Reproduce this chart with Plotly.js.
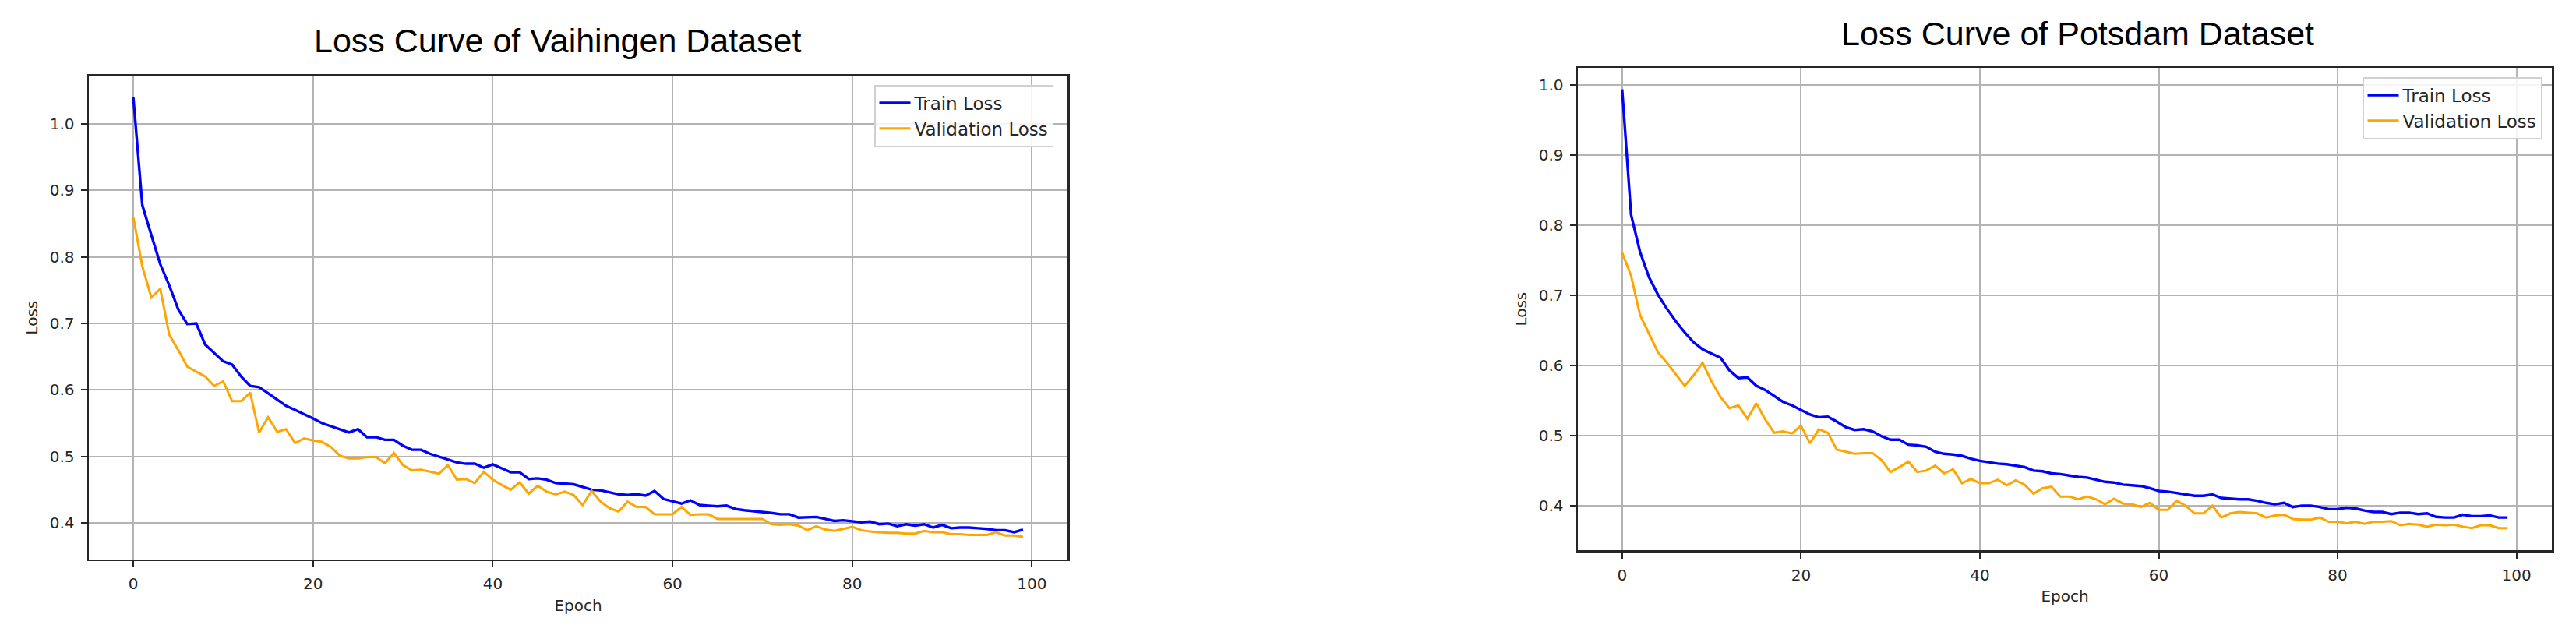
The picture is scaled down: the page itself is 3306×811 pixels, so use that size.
<!DOCTYPE html>
<html>
<head>
<meta charset="utf-8">
<script src="https://cdn.plot.ly/plotly-3.0.1.min.js"></script>
<style>
  html, body { margin: 0; padding: 0; background: #ffffff; }
  #chart { width: 3306px; height: 811px; }
</style>
</head>
<body>
<div id="chart"></div>
<script>
// ---- data ----
const epochs = Array.from({length: 100}, (_, i) => i);

const chartTitles = ["Loss Curve of Vaihingen Dataset", "Loss Curve of Potsdam Dataset"];
const seriesNames = ["Train Loss", "Validation Loss"];
const xTitle = "Epoch";
const yTitle = "Loss";
const xTickVals = [0, 20, 40, 60, 80, 100];
const yTickVals = [0.4, 0.5, 0.6, 0.7, 0.8, 0.9, 1.0];

const vaihingenTrain = [
  1.040, 0.878, 0.833, 0.789, 0.757, 0.721, 0.699, 0.700, 0.668, 0.655,
  0.643, 0.638, 0.620, 0.606, 0.604, 0.595, 0.586, 0.576, 0.570, 0.564,
  0.557, 0.550, 0.545, 0.541, 0.536, 0.541, 0.529, 0.529, 0.525, 0.525,
  0.516, 0.510, 0.510, 0.504, 0.500, 0.496, 0.491, 0.489, 0.489, 0.483,
  0.488, 0.482, 0.476, 0.476, 0.466, 0.467, 0.465, 0.460, 0.459, 0.458,
  0.454, 0.450, 0.449, 0.446, 0.443, 0.442, 0.443, 0.441, 0.448, 0.436,
  0.432, 0.429, 0.434, 0.427, 0.426, 0.425, 0.426, 0.421, 0.419, 0.418,
  0.417, 0.415, 0.413, 0.413, 0.408, 0.409, 0.409, 0.406, 0.403, 0.404,
  0.402, 0.401, 0.402, 0.398, 0.399, 0.395, 0.398, 0.396, 0.398, 0.393,
  0.397, 0.392, 0.393, 0.393, 0.392, 0.391, 0.389, 0.389, 0.386, 0.390
];
const vaihingenVal = [
  0.860, 0.786, 0.739, 0.752, 0.683, 0.660, 0.635, 0.627, 0.620, 0.606,
  0.613, 0.583, 0.583, 0.596, 0.536, 0.559, 0.537, 0.541, 0.520, 0.527,
  0.524, 0.522, 0.514, 0.501, 0.497, 0.497, 0.499, 0.499, 0.490, 0.505,
  0.487, 0.479, 0.480, 0.477, 0.474, 0.487, 0.465, 0.466, 0.460, 0.477,
  0.465, 0.457, 0.450, 0.461, 0.444, 0.456, 0.447, 0.443, 0.447, 0.442,
  0.427, 0.448, 0.432, 0.422, 0.417, 0.432, 0.424, 0.424, 0.413, 0.413,
  0.413, 0.424, 0.412, 0.413, 0.413, 0.406, 0.406, 0.406, 0.406, 0.406,
  0.406, 0.398, 0.397, 0.398, 0.396, 0.389, 0.395, 0.390, 0.388, 0.391,
  0.394, 0.389, 0.387, 0.386, 0.385, 0.385, 0.384, 0.384, 0.388, 0.386,
  0.386, 0.383, 0.383, 0.382, 0.382, 0.382, 0.386, 0.381, 0.381, 0.379
];
const potsdamTrain = [
  0.994, 0.815, 0.762, 0.726, 0.701, 0.681, 0.663, 0.647, 0.633, 0.623,
  0.617, 0.611, 0.593, 0.582, 0.583, 0.571, 0.565, 0.556, 0.548, 0.543,
  0.536, 0.530, 0.526, 0.527, 0.520, 0.512, 0.508, 0.509, 0.506, 0.499,
  0.494, 0.494, 0.487, 0.486, 0.484, 0.477, 0.474, 0.473, 0.471, 0.467,
  0.464, 0.462, 0.460, 0.459, 0.457, 0.455, 0.450, 0.449, 0.446, 0.445,
  0.443, 0.441, 0.440, 0.437, 0.434, 0.433, 0.430, 0.429, 0.428, 0.425,
  0.421, 0.420, 0.418, 0.416, 0.414, 0.414, 0.416, 0.411, 0.410, 0.409,
  0.409, 0.407, 0.404, 0.402, 0.404, 0.398, 0.400, 0.400, 0.398, 0.395,
  0.395, 0.397, 0.396, 0.393, 0.391, 0.391, 0.388, 0.390, 0.390, 0.388,
  0.389, 0.384, 0.383, 0.383, 0.387, 0.385, 0.385, 0.386, 0.383, 0.383
];
const potsdamVal = [
  0.761, 0.728, 0.672, 0.646, 0.619, 0.604, 0.588, 0.571, 0.586, 0.604,
  0.577, 0.555, 0.539, 0.543, 0.524, 0.546, 0.523, 0.504, 0.506, 0.503,
  0.514, 0.489, 0.509, 0.504, 0.480, 0.477, 0.474, 0.475, 0.475, 0.465,
  0.448, 0.455, 0.463, 0.448, 0.450, 0.457, 0.446, 0.452, 0.432, 0.438,
  0.432, 0.432, 0.437, 0.429, 0.436, 0.430, 0.417, 0.425, 0.427, 0.413,
  0.413, 0.409, 0.413, 0.409, 0.402, 0.410, 0.403, 0.402, 0.398, 0.404,
  0.394, 0.394, 0.407, 0.400, 0.389, 0.389, 0.400, 0.383, 0.389, 0.391,
  0.390, 0.389, 0.383, 0.386, 0.387, 0.381, 0.380, 0.380, 0.383, 0.377,
  0.377, 0.375, 0.377, 0.374, 0.377, 0.377, 0.378, 0.372, 0.374, 0.373,
  0.370, 0.373, 0.372, 0.373, 0.370, 0.368, 0.372, 0.372, 0.368, 0.368
];

// ---- styling ----
const W = 3306, H = 811;
const tickFont = {family: "DejaVu Sans", size: 20, color: "#262626"};
const trainColor = "#0000ff";
const valColor = "#ffa500";

function line(x, y, name, color, width, xa, ya, legendId) {
  return {
    type: "scatter", mode: "lines", x: x, y: y, name: name,
    line: {color: color, width: width},
    xaxis: xa, yaxis: ya, legend: legendId, hoverinfo: "skip"
  };
}

const data = [
  line(epochs, vaihingenTrain, seriesNames[0], trainColor, 3.4, "x", "y", "legend"),
  line(epochs, vaihingenVal, seriesNames[1], valColor, 3, "x", "y", "legend"),
  line(epochs, potsdamTrain, seriesNames[0], trainColor, 3.4, "x2", "y2", "legend2"),
  line(epochs, potsdamVal, seriesNames[1], valColor, 3, "x2", "y2", "legend2")
];

function xAxis(domain, anchor) {
  return {
    domain: domain, anchor: anchor, range: [-4.95, 103.95],
    tickvals: xTickVals, ticks: "outside", ticklen: 8, tickwidth: 2, tickcolor: "#262626",
    showline: true, mirror: true, linecolor: "#262626", linewidth: 2.5,
    showgrid: true, gridcolor: "#b4b4b4", gridwidth: 2, zeroline: false,
    tickfont: tickFont, ticklabelstandoff: 4,
    title: {text: xTitle, font: tickFont, standoff: 10}
  };
}
function yAxis(domain, anchor, range) {
  return {
    domain: domain, anchor: anchor, range: range,
    tickvals: yTickVals, tickformat: ".1f", ticks: "outside", ticklen: 8, tickwidth: 2, tickcolor: "#262626",
    showline: true, mirror: true, linecolor: "#262626", linewidth: 2.5,
    showgrid: true, gridcolor: "#b4b4b4", gridwidth: 2, zeroline: false,
    tickfont: tickFont, ticklabelstandoff: 4,
    title: {text: yTitle, font: tickFont, standoff: 10}
  };
}

const legendStyle = {
  font: {family: "DejaVu Sans", size: 23, color: "#262626"},
  bgcolor: "rgba(255,255,255,0.85)", bordercolor: "#d0d0d0", borderwidth: 1.5,
  xanchor: "right", yanchor: "top", itemwidth: 40
};

const titleFont = {family: "Liberation Sans, Arial, sans-serif", size: 43, color: "#000000"};

const layout = {
  width: W, height: H,
  margin: {l: 0, r: 0, t: 0, b: 0, pad: 0},
  paper_bgcolor: "#ffffff", plot_bgcolor: "#ffffff",
  xaxis: xAxis([114 / W, 1370 / W], "y"),
  yaxis: yAxis([1 - 717.7 / H, 1 - 97.7 / H], "x", [0.3453, 1.0718]),
  xaxis2: xAxis([2025 / W, 3275 / W], "y2"),
  yaxis2: yAxis([1 - 706 / H, 1 - 87.3 / H], "x2", [0.3365, 1.0243]),
  legend: Object.assign({x: 1352 / W, y: 1 - 109 / H}, legendStyle),
  legend2: Object.assign({x: 3262 / W, y: 1 - 99 / H}, legendStyle),
  showlegend: true,
  annotations: [
    {text: chartTitles[0], xref: "paper", yref: "paper", x: 716 / W, y: 1 - 52 / H,
     xanchor: "center", yanchor: "middle", showarrow: false, font: titleFont},
    {text: chartTitles[1], xref: "paper", yref: "paper", x: 2666 / W, y: 1 - 43 / H,
     xanchor: "center", yanchor: "middle", showarrow: false, font: titleFont}
  ]
};

Plotly.newPlot("chart", data, layout, {staticPlot: true, displayModeBar: false});
</script>
</body>
</html>
